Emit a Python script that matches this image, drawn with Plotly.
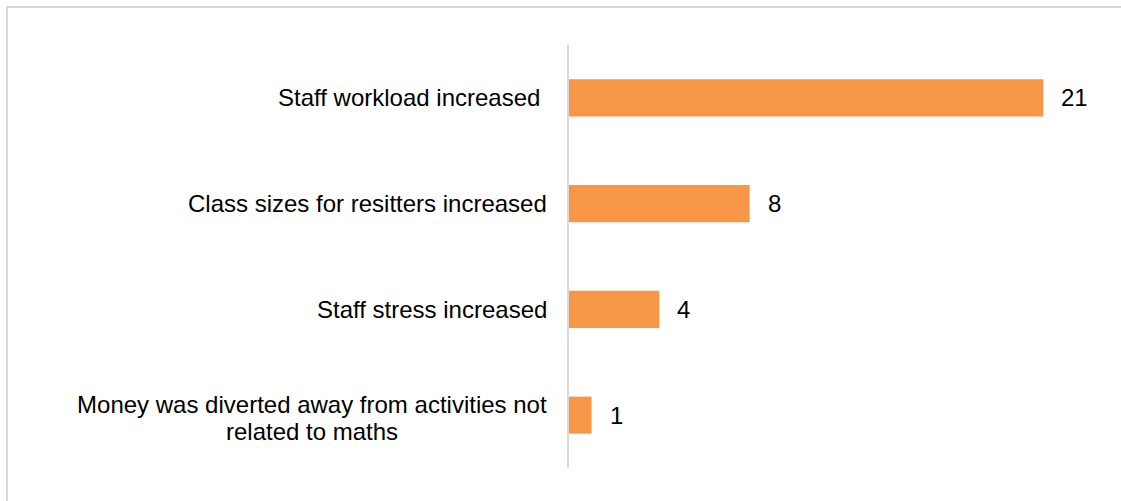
import plotly.graph_objects as go

# Reported effects, top to bottom, and the number of responses for each
categories = [
    "Staff workload increased\u00a0",
    "Class sizes for resitters increased",
    "Staff stress increased",
    "Money was diverted away from activities not<br>related to maths",
]
counts = [21, 8, 4, 1]

BAR_COLOR = "#F79646"
GRID_GREY = "#D9D9D9"
FONT = "Liberation Sans, Arial, sans-serif"
FONT_SIZE = 24
LINE_STEP = 27       # vertical distance between wrapped label lines, px
WRAP_BOX_W = 470     # width of the box that wrapped label lines are centred in, px

W, H = 1121, 501
L, R, T, B = 569, 10, 45, 33
plot_w = W - L - R
plot_h = H - T - B

fig = go.Figure(
    go.Bar(
        x=counts,
        y=categories,
        orientation="h",
        marker=dict(color=BAR_COLOR, line=dict(width=0)),
        hoverinfo="skip",
    )
)

annotations = []
for cat, val in zip(categories, counts):
    # category label, right edge set against the axis
    lines = cat.split("<br>")
    n = len(lines)
    for i, line in enumerate(lines):
        label = dict(
            x=0, y=cat, xref="x", yref="y",
            text=line, showarrow=False,
            xanchor="right", yanchor="middle",
            xshift=-20,
            font=dict(family=FONT, size=FONT_SIZE, color="#000000"),
        )
        if n > 1:
            # wrapped lines are centred on one another
            label.update(
                width=WRAP_BOX_W, align="center",
                yshift=((n - 1) / 2 - i) * LINE_STEP - 3,
            )
        annotations.append(label)
    # value label just past the end of the bar
    annotations.append(
        dict(
            x=val, y=cat, xref="x", yref="y",
            text=str(val), showarrow=False,
            xanchor="left", yanchor="middle",
            xshift=16,
            font=dict(family=FONT, size=FONT_SIZE, color="#000000"),
        )
    )


def px_to_paper_x(px):
    return (px - L) / plot_w


def px_to_paper_y(py):
    return (H - B - py) / plot_h


fig.update_layout(
    width=W,
    height=H,
    margin=dict(l=L, r=R, t=T, b=B, pad=0),
    paper_bgcolor="white",
    plot_bgcolor="white",
    showlegend=False,
    bargap=0.65,
    annotations=annotations,
    xaxis=dict(
        range=[0, 24],
        visible=False,
        fixedrange=True,
    ),
    yaxis=dict(
        autorange="reversed",
        showticklabels=False,
        ticks="",
        showgrid=False,
        zeroline=False,
        showline=True,
        linecolor=GRID_GREY,
        linewidth=2,
        fixedrange=True,
    ),
    shapes=[
        # outer chart frame
        dict(
            type="rect", xref="paper", yref="paper",
            x0=px_to_paper_x(7), x1=px_to_paper_x(W + 20),
            y0=px_to_paper_y(H + 20), y1=px_to_paper_y(7),
            line=dict(color=GRID_GREY, width=2),
            fillcolor="rgba(0,0,0,0)",
            layer="below",
        )
    ],
)

fig.write_html("out.html")
